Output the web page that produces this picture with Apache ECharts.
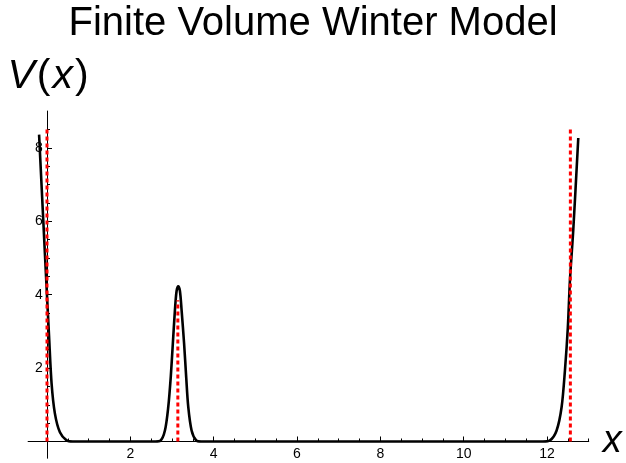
<!DOCTYPE html>
<html>
<head>
<meta charset="utf-8">
<script src="https://cdn.jsdelivr.net/npm/echarts@6/dist/echarts.min.js"></script>
<style>
  html, body { margin: 0; padding: 0; background: #fff; }
  #chart { width: 626px; height: 463px; }
</style>
</head>
<body>
<div id="chart"></div>
<script>
  // potential curve
  const curveX = [-0.19, -0.09, -0.01, 0.05, 0.11, 0.19, 0.31, 0.47, 0.62,
    2.6, 2.72, 2.83, 2.91, 2.97, 3.02, 3.07, 3.11, 3.15, 3.19, 3.23, 3.29, 3.34, 3.39, 3.47, 3.58, 3.7,
    11.9, 12.07, 12.23, 12.35, 12.43, 12.5, 12.55, 12.63, 12.75]
  const curveY = [8.36, 6.04, 4.2, 2.85, 1.58, 0.76, 0.25, 0.03, 0,
    0, 0.02, 0.3, 0.94, 1.76, 2.67, 3.58, 4.1, 4.23, 4.1, 3.58, 2.67, 1.76, 0.94, 0.3, 0.03, 0,
    0, 0.03, 0.3, 0.94, 1.94, 3.12, 4.4, 5.77, 8.27]

  // red dashed markers (x position, top value)
  const markX = [0, 3.14, 12.56]
  const markTop = [8.52, 3.85, 8.52]

  const xLabels = [2, 4, 6, 8, 10, 12]
  const yLabels = [2, 4, 6, 8]
  const xMajor = [0, 2, 4, 6, 8, 10, 12]
  const xMinor = [0.5, 1, 1.5, 2.5, 3, 3.5, 4.5, 5, 5.5, 6.5, 7, 7.5, 8.5, 9, 9.5, 10.5, 11, 11.5, 12.5, 13]
  const yMajor = [0, 2, 4, 6, 8]
  const yMinor = [0.5, 1, 1.5, 2.5, 3, 3.5, 4.5, 5, 5.5, 6.5, 7, 7.5, 8.5]

  const X_MIN = -0.45, X_MAX = 13.0
  const Y_MIN = -0.45, Y_MAX = 9.0

  let myChart = echarts.init(document.getElementById('chart'))

  let curve = curveX.map((x, i) => [x, curveY[i]])
  let markSeries = markX.map((x, i) => ({
    type: 'line',
    data: [[x, 0], [x, markTop[i]]],
    symbol: 'none',
    silent: true,
    z: 5,
    lineStyle: { color: '#ff0000', width: 3, type: [4, 3] }
  }))

  const baseAxis = {
    type: 'value',
    splitLine: { show: false },
    axisLine: { onZero: true, onZeroAxisIndex: 0, lineStyle: { color: '#000', width: 1 } }
  }

  // labels sit at the grid edge, not on the zero line, so margins pull them back in
  myChart.setOption({
    animation: false,
    title: {
      text: 'Finite Volume Winter Model',
      left: 'center',
      top: -1,
      textStyle: { fontFamily: 'Liberation Sans', fontSize: 40, fontWeight: 'normal', color: '#000' }
    },
    grid: { left: 28.25, right: 37.3, top: 111.2, bottom: 5, outerBoundsMode: 'none' },
    xAxis: [{
      ...baseAxis,
      min: X_MIN, max: X_MAX,
      name: 'x',
      nameLocation: 'end',
      nameGap: 14,
      nameTextStyle: { fontFamily: 'Liberation Sans', fontSize: 38, fontStyle: 'italic', color: '#000', padding: [32, 0, 0, 0] },
      axisTick: { inside: true, length: 5, customValues: xMajor, lineStyle: { color: '#000' } },
      axisLabel: { customValues: xLabels, margin: -11, hideOverlap: false, fontFamily: 'Liberation Sans', fontSize: 14, color: '#000' }
    }, {
      ...baseAxis,
      min: X_MIN, max: X_MAX,
      position: 'bottom',
      axisTick: { inside: true, length: 3, customValues: xMinor, lineStyle: { color: '#000' } },
      axisLabel: { show: false }
    }],
    yAxis: [{
      ...baseAxis,
      min: Y_MIN, max: Y_MAX,
      name: '{i|V}({i|x})',
      nameLocation: 'end',
      nameGap: 14,
      nameTextStyle: {
        fontFamily: 'Liberation Sans', fontSize: 41, color: '#000', align: 'center',
        rich: { i: { fontFamily: 'Liberation Sans', fontSize: 41, fontStyle: 'italic', color: '#000', padding: [0, 2, 0, 2] } }
      },
      axisTick: { inside: true, length: 5, customValues: yMajor, lineStyle: { color: '#000' } },
      axisLabel: { customValues: yLabels, margin: -14.5, fontFamily: 'Liberation Sans', fontSize: 14, color: '#000' }
    }, {
      ...baseAxis,
      min: Y_MIN, max: Y_MAX,
      position: 'left',
      axisTick: { inside: true, length: 3, customValues: yMinor, lineStyle: { color: '#000' } },
      axisLabel: { show: false }
    }],
    series: [{
      type: 'line',
      data: curve,
      symbol: 'none',
      smooth: 0.3,
      z: 3,
      lineStyle: { color: '#000', width: 2.6 }
    }, ...markSeries]
  })
</script>
</body>
</html>
